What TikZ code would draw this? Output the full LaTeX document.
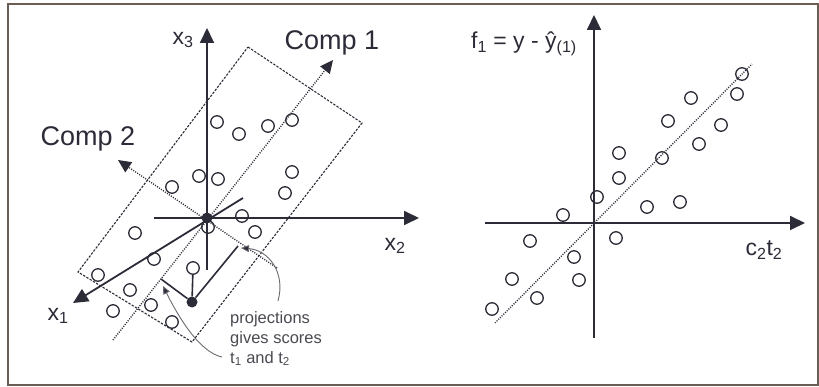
\documentclass[tikz,border=0pt]{standalone}
\usepackage{fontspec}
\setmainfont{Liberation Sans}
\usetikzlibrary{arrows.meta}
\definecolor{ink}{HTML}{2C2C38}
\definecolor{framec}{HTML}{6A5E54}
\definecolor{notec}{HTML}{4A4A52}
\definecolor{curvec}{HTML}{6A6A70}
\begin{document}
\begin{tikzpicture}[x=1pt,y=-1pt,
  axis/.style={ink, line width=1.8pt, -{Triangle[length=15pt,width=14pt]}},
  comp/.style={ink, line width=1.4pt, dash pattern=on 1pt off 1.4pt, -{Triangle[length=13pt,width=12pt]}},
  trend/.style={ink, line width=1.4pt, dash pattern=on 1pt off 1.4pt},
  box/.style={ink, line width=1.1pt, dash pattern=on 2.4pt off 1.4pt},
  pt/.style={circle, draw=ink, line width=1.3pt, minimum size=12.5pt, inner sep=0pt},
  dot/.style={circle, fill=ink, minimum size=11pt, inner sep=0pt},
  proj/.style={ink, line width=1.6pt},
  note/.style={curvec, line width=0.9pt, -{Triangle[length=8pt,width=7pt,fill=ink]}},
  big/.style={ink, font=\fontsize{27}{30}\selectfont, inner sep=0pt},
  axl/.style={ink, font=\fontsize{23}{26}\selectfont, inner sep=0pt},
  small/.style={notec, font=\fontsize{16.5}{20}\selectfont, inner sep=0pt, align=left}
]
\useasboundingbox (0,0) rectangle (819,387);
\fill[white] (0,0) rectangle (819,387);
\draw[framec, line width=2pt] (8,4) rectangle (818,385);

% ---------------- left panel ----------------
\coordinate (bA) at (248,47);
\coordinate (bB) at (362,123);
\coordinate (bC) at (192,342);
\coordinate (bD) at (78,272);
\draw[box] (bA) -- (bB) -- (bC) -- (bD) -- cycle;

\coordinate (c1s) at (113,340);
\coordinate (c1e) at (333,60);
\coordinate (c2s) at (277,268);
\coordinate (c2e) at (118,160);
\draw[comp] (c1s) -- (c1e);
\draw[comp] (c2s) -- (c2e);

\coordinate (x3s) at (207,270);
\coordinate (x3e) at (207,28);
\coordinate (x2s) at (154,218);
\coordinate (x2e) at (419,218);
\coordinate (x1s) at (243,198);
\coordinate (x1e) at (73,303);
\draw[axis] (x3s) -- (x3e);
\draw[axis] (x2s) -- (x2e);
\draw[axis] (x1s) -- (x1e);

\node[big] (comp1) at (332,43) {Comp 1};
\node[big] (comp2) at (88,139) {Comp 2};
\node[axl] (lx3) at (183,40) {x\textsubscript{3}};
\node[axl] (lx2) at (395,246) {x\textsubscript{2}};
\node[axl] (lx1) at (58,316) {x\textsubscript{1}};

\foreach \n/\x/\y in {1/217/122, 2/239/134, 3/268/126, 4/292/120, 5/199/176,
  6/218/179, 7/172/187, 8/292/172, 9/285/193, 10/242/216, 11/255/232,
  12/208/227, 13/135/233, 14/154/259, 15/98/275, 16/193/268, 17/130/290,
  18/151/305, 19/113/311, 20/172/322}
  \node[pt] (L\n) at (\x,\y) {};

\node[dot] (O) at (207,218) {};
\node[dot] (P) at (192,302) {};
\coordinate (q1) at (161,279);
\coordinate (q2) at (238,246);
\draw[proj] (L16) -- (P);
\draw[proj] (P) -- (q1);
\draw[proj] (P) -- (q2);

\coordinate (n1s) at (222,357);
\coordinate (n1e) at (163,286);
\coordinate (n2s) at (278,301);
\coordinate (n2e) at (241,248);
\draw[note] (n1s) .. controls (198,352) and (176,312) .. (n1e);
\draw[note] (n2s) .. controls (286,272) and (268,250) .. (n2e);

\node[small, anchor=base west] (ann) at (230,363) {projections\\gives scores\\t\textsubscript{1} and t\textsubscript{2}};

% ---------------- right panel ----------------
\coordinate (ys) at (594,338);
\coordinate (ye) at (594,15);
\coordinate (xs) at (485,223);
\coordinate (xe) at (805,223);
\draw[axis] (ys) -- (ye);
\draw[axis] (xs) -- (xe);

\coordinate (ts) at (495,323);
\coordinate (te) at (752,64);
\draw[trend] (ts) -- (te);

\node[axl] (lf) at (524,44) {f\textsubscript{1} = y - ŷ\textsubscript{(1)}};
\node[axl] (lc) at (764,250) {c\textsubscript{2}t\textsubscript{2}};

\foreach \n/\x/\y in {1/492/309, 2/512/279, 3/537/298, 4/530/241, 5/563/215,
  6/574/257, 7/579/280, 8/597/197, 9/616/238, 10/619/178, 11/619/153,
  12/647/207, 13/680/202, 14/662/158, 15/668/121, 16/691/98, 17/699/144,
  18/721/125, 19/737/94, 20/742/74}
  \node[pt] (R\n) at (\x,\y) {};
\end{tikzpicture}
\end{document}
